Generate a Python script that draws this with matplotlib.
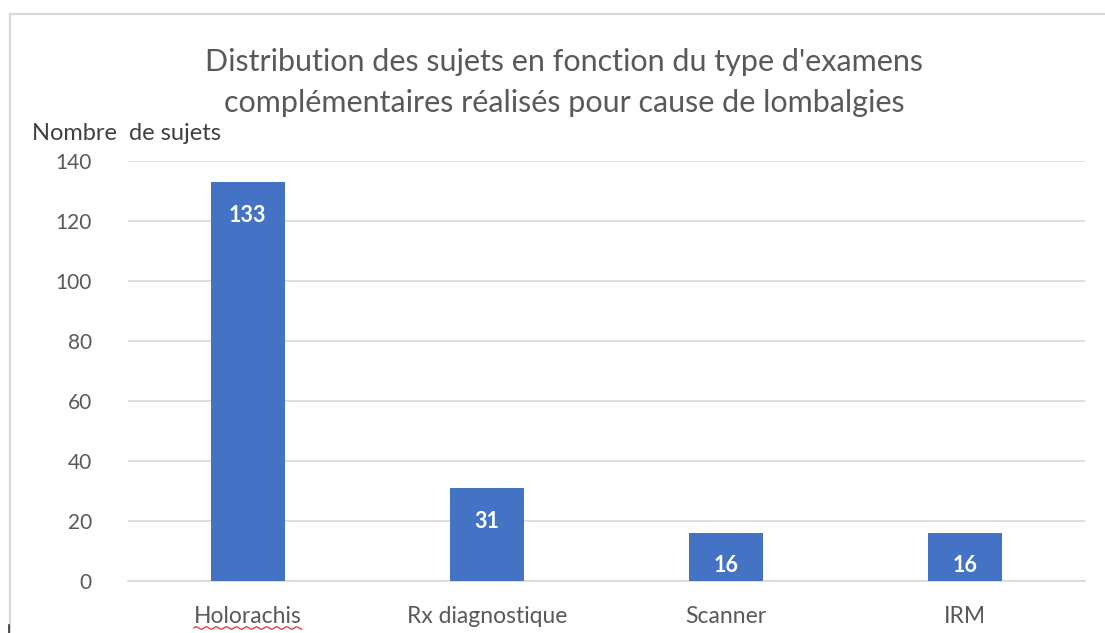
import matplotlib
matplotlib.use("Agg")
import matplotlib.pyplot as plt
from matplotlib.lines import Line2D
import numpy as np

categories = ["Holorachis", "Rx diagnostique", "Scanner", "IRM"]
values = [133, 31, 16, 16]
yticks = [0, 20, 40, 60, 80, 100, 120, 140]
title = "Distribution des sujets en fonction du type d'examens\ncomplémentaires réalisés pour cause de lombalgies"
ylabel = "Nombre  de sujets"

plt.rcParams['font.family'] = ['Lato', 'DejaVu Sans']
W, H = 1105, 633
fig = plt.figure(figsize=(W/100, H/100), dpi=100)
ax = fig.add_axes([128/W, 1-581/H, (1085-128)/W, (581-161)/H])

x = range(len(categories))
bars = ax.bar(x, values, width=0.31, color="#4472C4", zorder=3)
for b, v in zip(bars, values):
    ax.text(b.get_x()+b.get_width()/2, v - 11, str(v), ha="center", va="center",
            color="white", fontsize=15.5, fontweight="bold", zorder=4)

ax.set_xlim(-0.5, len(categories)-0.5)
ax.set_ylim(0, 140)
ax.set_yticks(yticks)
ax.set_yticklabels([str(t) for t in yticks], fontsize=15, color="#595959")
ax.set_xticks(list(x))
ax.set_xticklabels(categories, fontsize=16.5, color="#595959")
ax.tick_params(axis="both", length=0)
ax.tick_params(axis="y", pad=26)
ax.tick_params(axis="x", pad=18)
ax.grid(axis="y", color="#d9d9d9", linewidth=1.2, zorder=0)
for s in ["top", "right", "left"]:
    ax.spines[s].set_visible(False)
ax.spines["bottom"].set_color("#d9d9d9")
ax.spines["bottom"].set_linewidth(1.2)

fig.text(564/W, 1-82.5/H, title, ha="center", va="center", fontsize=22,
         color="#595959", linespacing=1.55)
fig.text(32/W, 1-133/H, ylabel, ha="left", va="center", fontsize=17, color="#404040")

# chart border (top and left)
fig.add_artist(Line2D([10/W, 1], [1-14/H, 1-14/H], color="#d9d9d9", lw=1.5, transform=fig.transFigure))
fig.add_artist(Line2D([10/W, 10/W], [1-14/H, 0], color="#d9d9d9", lw=1.5, transform=fig.transFigure))
fig.add_artist(Line2D([8.5/W, 8.5/W], [1-625/H, 0], color="#333333", lw=1.2, transform=fig.transFigure))

# spell-check squiggle under first category label
fig.canvas.draw()
bb = ax.get_xticklabels()[0].get_window_extent()
sx = np.linspace(bb.x0, bb.x1, 80)
base = bb.y0 - 1
sy = base + 1.2*np.sin((sx - bb.x0)/1.6)
fig.add_artist(Line2D(sx/W, sy/H, color="#e03030", lw=0.9, transform=fig.transFigure))

fig.savefig("out.png", dpi=100)
